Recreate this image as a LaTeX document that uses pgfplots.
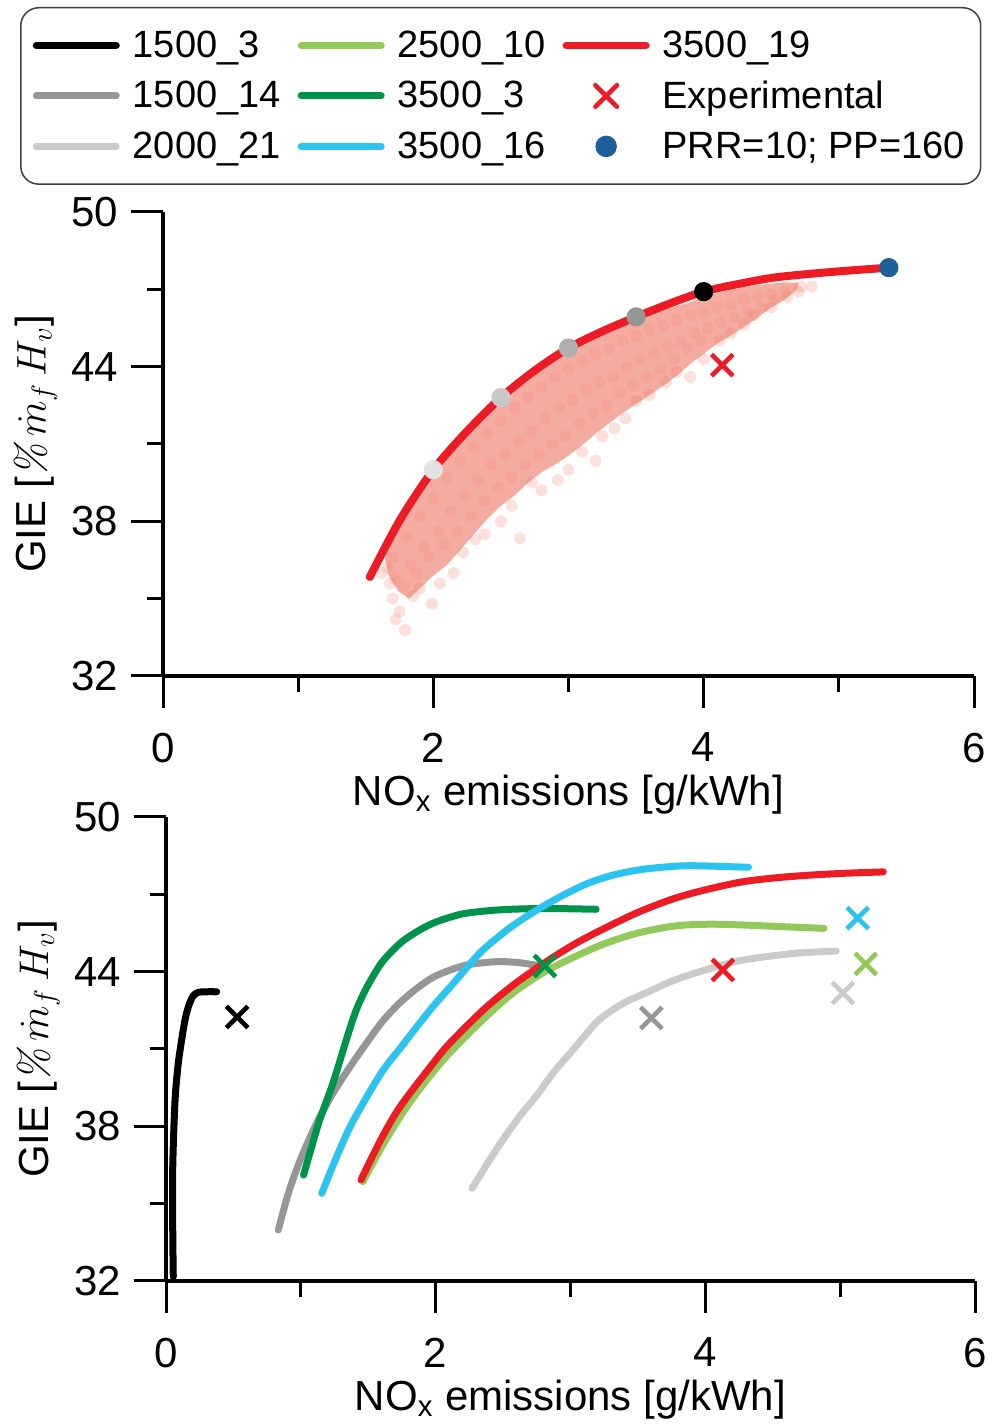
\documentclass[border=0pt]{standalone}
\usepackage{fontspec}
\setsansfont{Liberation Sans}
\usepackage{pgfplots}
\pgfplotsset{compat=1.18}
\definecolor{cA}{RGB}{0,0,0}
\definecolor{cB}{RGB}{150,150,150}
\definecolor{cC}{RGB}{203,203,203}
\definecolor{cD}{RGB}{146,201,90}
\definecolor{cE}{RGB}{0,147,74}
\definecolor{cF}{RGB}{43,195,240}
\definecolor{cG}{RGB}{237,28,36}
\definecolor{cBlue}{RGB}{31,95,153}
\definecolor{cloud}{RGB}{236,112,92}
\definecolor{gA}{RGB}{226,226,226}
\definecolor{gB}{RGB}{200,200,200}
\definecolor{gC}{RGB}{175,175,175}
\pgfplotsset{
  xm/.style={only marks, mark=x, mark size=7.6pt, mark options={draw=#1, line width=2.3pt}},
  legend image code/.code={\draw[mark repeat=2,mark phase=2,line cap=round,#1] plot coordinates {(0pt,0pt) (20pt,0pt) (40pt,0pt)};},
}
\pgfplotsset{myaxis/.style={
  scale only axis, width=405.5pt, height=232pt,
  xmin=0, xmax=6, ymin=32, ymax=50, clip=false,
  axis lines*=left,
  axis line style={line width=2pt},
  xtick={0,2,4,6}, minor xtick={1,3,5},
  ytick={32,38,44,50}, minor ytick={35,41,47},
  tick align=outside, major tick length=16pt, minor tick length=8pt,
  every tick/.style={line width=1.5pt, black},
  font=\sffamily\fontsize{21}{24}\selectfont,
  /pgf/number format/assume math mode=true,
  xticklabel style={yshift=-9pt},
  yticklabel style={xshift=-3pt},
  xlabel={NO\textsubscript{x} emissions [g/kWh]},
  ylabel={GIE [{\rmfamily\itshape\%}$\,\dot{m}_f\,H_v$]},
  xlabel style={at={(axis description cs:0.5,-0.256)}, anchor=center},
  ylabel style={at={(axis description cs:-0.157,0.5)}, anchor=center},
}}
\begin{document}
\begin{tikzpicture}
\useasboundingbox (0,0) rectangle (494.5pt,714pt);
\begin{axis}[myaxis, at={(81.5pt,376pt)}, anchor=south west,
  legend columns=3, legend cell align=left,
  legend style={at={(axis description cs:-0.1763,1.4418)}, anchor=north west,
    font=\sffamily\fontsize{19}{22}\selectfont,
    draw=black!75, line width=0.75pt, rounded corners=9pt, fill=white,
    inner xsep=6pt, inner ysep=9.5pt, row sep=6.2pt,
    /tikz/every odd column/.append style={column sep=4.5pt},
    /tikz/every even column/.append style={column sep=6.5pt}}]
% cloud band
\addplot[fill=cloud, fill opacity=0.58, draw=none, forget plot] coordinates {
(1.64,36.6) (1.70,37.3) (1.8,38.2) (1.9,39.0) (2.0,39.8) (2.1,40.45) (2.2,41.05) (2.3,41.65) (2.4,42.15) (2.5,42.65) (2.6,43.1) (2.7,43.55) (2.8,43.95) (2.9,44.3) (3.0,44.6) (3.1,44.9) (3.2,45.15) (3.3,45.4) (3.4,45.6) (3.5,45.8) (3.6,46.0) (3.7,46.2) (3.8,46.35) (3.9,46.5) (4.0,46.7) (4.1,46.85) (4.2,46.98) (4.3,47.08) (4.4,47.17) (4.5,47.22) (4.6,47.27) (4.7,47.25)
(4.69,47.0) (4.6,46.6) (4.5,46.3) (4.4,45.9) (4.3,45.55) (4.2,45.2) (4.1,44.9) (4.0,44.5) (3.9,44.1) (3.8,43.65) (3.7,43.25) (3.6,42.9) (3.5,42.55) (3.4,42.2) (3.3,41.8) (3.2,41.4) (3.1,40.95) (3.0,40.55) (2.9,40.2) (2.8,39.9) (2.7,39.5) (2.6,39.0) (2.5,38.6) (2.4,38.1) (2.3,37.5) (2.2,36.9) (2.1,36.3) (2.0,35.9) (1.9,35.4) (1.82,35.0) (1.74,35.3) (1.67,35.9)
} -- cycle;
% cloud dots, interior
\addplot[only marks, mark=*, mark size=3pt, mark options={draw opacity=0, fill=cloud, fill opacity=0.14}, forget plot] coordinates {
(1.7,36.6) (1.72,35.8) (1.8,37.4) (1.83,36.3) (1.78,35.5) (1.9,38.2) (1.93,37.0) (1.88,36.0)
(2.0,38.9) (2.04,37.6) (1.97,36.6) (2.1,39.7) (2.13,38.4) (2.08,37.1) (2.2,40.3) (2.23,39.0) (2.18,37.6)
(2.3,40.9) (2.33,39.6) (2.28,38.2) (2.4,41.4) (2.43,40.2) (2.38,38.8) (2.5,41.9) (2.53,40.6) (2.48,39.3)
(2.6,42.4) (2.63,41.1) (2.58,39.7) (2.7,42.8) (2.73,41.5) (2.68,40.2) (2.8,43.2) (2.83,42.0) (2.78,40.6)
(2.9,43.6) (2.93,42.4) (2.88,41.0) (3.0,43.9) (3.03,42.7) (2.98,41.3) (3.1,44.2) (3.13,43.1) (3.08,41.8)
(3.2,44.5) (3.23,43.4) (3.18,42.2) (3.3,44.7) (3.33,43.6) (3.28,42.5) (3.4,45.0) (3.43,44.0) (3.38,43.0)
(3.5,45.2) (3.53,44.3) (3.48,43.3) (3.6,45.4) (3.63,44.5) (3.58,43.6) (3.7,45.6) (3.73,44.8) (3.68,43.9)
(3.8,45.8) (3.83,45.0) (3.78,44.3) (3.9,46.0) (3.93,45.3) (3.88,44.7) (4.0,46.1) (4.03,45.5) (3.98,45.0)
(4.1,46.3) (4.13,45.7) (4.2,46.4) (4.23,45.9) (4.3,46.6) (4.33,46.1) (4.4,46.7) (4.43,46.3) (4.5,46.8) (4.53,46.6) (4.6,46.9)
};
% cloud dots, scattered edge
\addplot[only marks, mark=*, mark size=3pt, mark options={draw opacity=0, fill=cloud, fill opacity=0.22}, forget plot] coordinates {
(1.66,36.2) (1.75,34.5) (1.79,33.78) (1.99,34.8) (2.22,36.8) (2.31,37.3) (2.64,37.34) (2.73,39.5) (2.92,39.6)
(3.2,40.35) (3.34,41.6) (3.5,42.67) (3.72,43.4) (3.9,43.6) (4.12,45.0) (4.3,45.64) (4.37,46.0) (4.7,46.9)
(1.70,35.0) (1.72,34.2) (1.85,35.1) (1.9,35.4) (2.05,35.6) (2.15,36.0) (2.38,37.5) (2.5,38.0) (2.58,38.6)
(2.8,39.2) (3.0,40.0) (3.1,40.7) (3.25,41.3) (3.42,42.0) (3.6,42.9) (3.8,43.8) (4.0,44.3) (4.2,45.3)
(4.5,46.3) (4.62,46.7) (4.72,47.1) (1.62,36.0) (1.68,35.6) (4.8,47.1)
};
% red curve
\addplot[cG, line width=4pt, line cap=round, smooth, forget plot] coordinates {
(1.53,35.84) (1.753,38.05) (2.0,40.0) (2.25,41.5) (2.5,42.8) (2.75,43.85) (3.0,44.72) (3.25,45.37) (3.5,45.93) (3.75,46.45) (4.0,46.91) (4.27,47.22) (4.54,47.47) (4.96,47.68) (5.37,47.84)
};
\addplot[only marks, mark=*, mark size=4.6pt, mark options={draw=gA, fill=gA}, forget plot] coordinates {(2.0,40.0)};
\addplot[only marks, mark=*, mark size=4.6pt, mark options={draw=gB, fill=gB}, forget plot] coordinates {(2.5,42.8)};
\addplot[only marks, mark=*, mark size=4.6pt, mark options={draw=gC, fill=gC}, forget plot] coordinates {(3.0,44.72)};
\addplot[only marks, mark=*, mark size=4.6pt, mark options={draw=cB, fill=cB}, forget plot] coordinates {(3.5,45.93)};
\addplot[only marks, mark=*, mark size=4.6pt, mark options={draw=black, fill=black}, forget plot] coordinates {(4.0,46.91)};
\addplot[only marks, mark=*, mark size=4.6pt, mark options={draw=cBlue, fill=cBlue}, forget plot] coordinates {(5.37,47.84)};
\addplot[xm=cG, forget plot] coordinates {(4.137,44.06)};
% legend
\addlegendimage{cA, line width=3.5pt, mark=none}\addlegendentry{1500\_3}
\addlegendimage{cD, line width=3.5pt, mark=none}\addlegendentry{2500\_10}
\addlegendimage{cG, line width=3.5pt, mark=none}\addlegendentry{3500\_19}
\addlegendimage{cB, line width=3.5pt, mark=none}\addlegendentry{1500\_14}
\addlegendimage{cE, line width=3.5pt, mark=none}\addlegendentry{3500\_3}
\addlegendimage{xm=cG}\addlegendentry{Experimental}
\addlegendimage{cC, line width=3.5pt, mark=none}\addlegendentry{2000\_21}
\addlegendimage{cF, line width=3.5pt, mark=none}\addlegendentry{3500\_16}
\addlegendimage{only marks, mark=*, mark size=5pt, mark options={draw=cBlue, fill=cBlue}}\addlegendentry{PRR=10; PP=160}
\end{axis}
\begin{axis}[myaxis, at={(83pt,73.5pt)}, anchor=south west, width=404.5pt,
  ylabel style={at={(axis description cs:-0.158,0.5)}, anchor=center}]
\addplot[cA, line width=3.5pt, line cap=round, smooth] coordinates {
(0.054,32.17) (0.05,34.0) (0.05,36.43) (0.067,39.0) (0.09,40.4) (0.116,41.35) (0.14,42.1) (0.166,42.64) (0.2,43.05) (0.24,43.2) (0.3,43.22) (0.376,43.22)
};
\addplot[cB, line width=3.5pt, line cap=round, smooth] coordinates {
(0.833,33.98) (0.91,35.45) (1.0,36.75) (1.12,38.15) (1.24,39.3) (1.37,40.35) (1.49,41.25) (1.61,42.1) (1.736,42.8) (1.86,43.35) (1.98,43.78) (2.1,44.05) (2.23,44.26) (2.36,44.35) (2.48,44.39) (2.62,44.35) (2.8,44.2)
};
\addplot[cC, line width=3.5pt, line cap=round, smooth] coordinates {
(2.27,35.6) (2.45,37.1) (2.62,38.37) (2.75,39.2) (2.87,40.06) (3.04,41.1) (3.21,42.12) (3.39,42.77) (3.57,43.2) (3.77,43.67) (4.02,44.1) (4.28,44.45) (4.66,44.71) (4.97,44.8)
};
\addplot[cD, line width=3.5pt, line cap=round, smooth] coordinates {
(1.46,35.85) (1.6,37.2) (1.74,38.4) (1.86,39.3) (1.98,40.1) (2.1,40.83) (2.36,42.19) (2.58,43.2) (2.81,44.0) (3.04,44.6) (3.26,45.1) (3.5,45.5) (3.77,45.77) (4.02,45.84) (4.28,45.81) (4.6,45.74) (4.88,45.68)
};
\addplot[cE, line width=3.5pt, line cap=round, smooth] coordinates {
(1.02,36.11) (1.08,37.2) (1.14,38.25) (1.24,39.7) (1.34,41.4) (1.41,42.5) (1.49,43.4) (1.6,44.35) (1.736,45.1) (1.86,45.55) (1.98,45.88) (2.1,46.1) (2.23,46.27) (2.48,46.4) (2.8,46.45) (3.19,46.42)
};
\addplot[cF, line width=3.5pt, line cap=round, smooth] coordinates {
(1.155,35.4) (1.26,36.75) (1.365,37.98) (1.49,39.15) (1.61,40.18) (1.74,41.05) (1.86,41.86) (1.98,42.65) (2.11,43.42) (2.23,44.15) (2.35,44.84) (2.55,45.7) (2.75,46.39) (2.94,46.95) (3.13,47.43) (3.32,47.75) (3.51,47.95) (3.7,48.06) (3.9,48.11) (4.32,48.05)
};
\addplot[cG, line width=3.5pt, line cap=round, smooth] coordinates {
(1.446,35.92) (1.59,37.45) (1.736,38.76) (1.98,40.44) (2.1,41.2) (2.36,42.55) (2.58,43.5) (2.81,44.35) (3.04,45.1) (3.26,45.7) (3.5,46.3) (3.77,46.84) (4.02,47.2) (4.28,47.49) (4.54,47.65) (4.79,47.75) (5.05,47.82) (5.32,47.87)
};
\addplot[xm=cA] coordinates {(0.527,42.24)};
\addplot[xm=cB] coordinates {(3.6,42.2)};
\addplot[xm=cC] coordinates {(5.02,43.17)};
\addplot[xm=cD] coordinates {(5.19,44.3)};
\addplot[xm=cE] coordinates {(2.81,44.22)};
\addplot[xm=cF] coordinates {(5.13,46.08)};
\addplot[xm=cG] coordinates {(4.13,44.06)};
\end{axis}
\end{tikzpicture}
\end{document}
